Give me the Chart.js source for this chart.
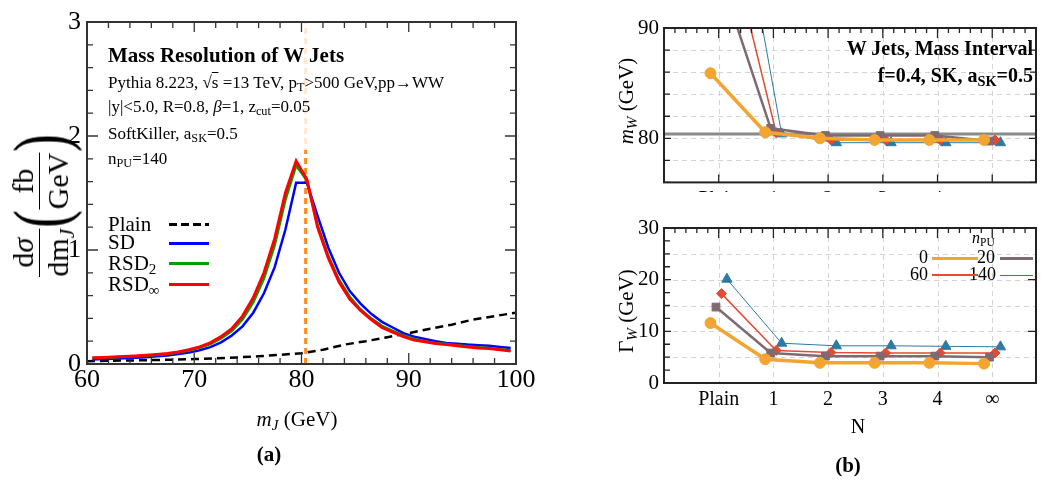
<!DOCTYPE html>
<html>
<head>
<meta charset="utf-8">
<script src="https://cdn.jsdelivr.net/npm/chart.js@4.4.0/dist/chart.umd.min.js"></script>
<style>
body { margin: 0; background: #fff; width: 1043px; height: 481px; overflow: hidden; position: relative; font-family: "Liberation Serif", serif; }
canvas { position: absolute; }
.t { position: absolute; white-space: nowrap; color: #000; line-height: 1; }
.b { font-weight: bold; }
sub { font-size: 72%; vertical-align: -0.28em; line-height: 0; }
.rot { position: absolute; transform: translate(-50%, -50%) rotate(-90deg); white-space: nowrap; line-height: 1; display: flex; align-items: center; }
.frac { display: inline-flex; flex-direction: column; align-items: center; line-height: 1.05; }
.frac .den { border-top: 1.6px solid #000; padding-top: 2px; }
.paren { font-size: 76px; line-height: 1; transform: scaleX(0.7); margin: 0 -3px; }
.key { position: absolute; }
</style>
</head>
<body>
<canvas id="massChart" width="540" height="440" style="left:0;top:0"></canvas>
<canvas id="mwChart" width="443" height="200" style="left:600px;top:0"></canvas>
<canvas id="gwChart" width="443" height="289" style="left:600px;top:192px;background:#fff"></canvas>

<!-- panel (a) text -->
<div class="t b" style="left:108px;top:45px;font-size:21px">Mass Resolution of W Jets</div>
<div class="t" style="left:108px;top:74px;font-size:17px">Pythia 8.223, √<span style="text-decoration:overline">s</span> =13 TeV, p<sub>T</sub>&gt;500 GeV,pp→WW</div>
<div class="t" style="left:108px;top:98px;font-size:17px">|y|&lt;5.0, R=0.8, <i>β</i>=1, z<sub>cut</sub>=0.05</div>
<div class="t" style="left:108px;top:125px;font-size:17px">SoftKiller, a<sub>SK</sub>=0.5</div>
<div class="t" style="left:108px;top:150px;font-size:17px">n<sub>PU</sub>=140</div>

<div class="t" style="left:108px;top:214px;font-size:21px">Plain</div>
<div class="t" style="left:108px;top:232px;font-size:21px">SD</div>
<div class="t" style="left:108px;top:253px;font-size:21px">RSD<sub>2</sub></div>
<div class="t" style="left:108px;top:274px;font-size:21px">RSD<sub>∞</sub></div>
<div class="key" style="left:169px;top:223px;width:40px;height:3px;background:repeating-linear-gradient(90deg,#000 0 8px,transparent 8px 12px)"></div>
<div class="key" style="left:169px;top:242px;width:40px;height:3px;background:#0000ff"></div>
<div class="key" style="left:169px;top:262px;width:40px;height:3px;background:#00a000"></div>
<div class="key" style="left:169px;top:283px;width:40px;height:3px;background:#ff0000"></div>

<div class="rot" style="left:40px;top:205px;font-size:30px">
  <span class="frac"><span>d<i>σ</i></span><span class="den">dm<sub><i>J</i></sub></span></span>
  <span class="paren">(</span>
  <span class="frac"><span>fb</span><span class="den">GeV</span></span>
  <span class="paren">)</span>
</div>
<div class="t" style="left:297px;top:409px;font-size:21px;transform:translateX(-50%)"><i>m<sub>J</sub></i> (GeV)</div>
<div class="t b" style="left:269px;top:444px;font-size:21px;transform:translateX(-50%)">(a)</div>

<!-- panel (b) text -->
<div class="t b" style="right:10px;top:38px;font-size:20px">W Jets, Mass Interval</div>
<div class="t b" style="right:10px;top:65px;font-size:20px">f=0.4, SK, a<sub>SK</sub>=0.5</div>
<div class="rot" style="left:626px;top:101px;font-size:21px"><span><i>m<sub>W</sub></i> (GeV)</span></div>
<div class="rot" style="left:626px;top:311px;font-size:21px"><span>Γ<sub><i>W</i></sub> (GeV)</span></div>

<div class="t" style="left:972px;top:230px;font-size:16px"><i>n</i><sub>PU</sub></div>
<div class="t" style="right:115px;top:248px;font-size:18px">0</div>
<div class="t" style="right:48px;top:248px;font-size:18px">20</div>
<div class="t" style="right:115px;top:265px;font-size:18px">60</div>
<div class="t" style="right:47px;top:265px;font-size:18px">140</div>
<div class="key" style="left:932px;top:256.5px;width:46px;height:3.5px;background:#f3a530"></div>
<div class="key" style="left:1000px;top:257px;width:33px;height:2.5px;background:#7f6a73"></div>
<div class="key" style="left:932px;top:274px;width:46px;height:1.5px;background:#e64a30"></div>
<div class="key" style="left:1000px;top:274.5px;width:33px;height:1px;background:#2f7aa0"></div>

<div class="t" style="left:858px;top:416px;font-size:20px;transform:translateX(-50%)">N</div>
<div class="t b" style="left:848px;top:455px;font-size:21px;transform:translateX(-50%)">(b)</div>

<script>
// ---- panel (a): jet mass distribution ----
const massBins = [60.5, 61.5, 62.5, 63.5, 64.5, 65.5, 66.5, 67.5, 68.5, 69.5,
    70.5, 71.5, 72.5, 73.5, 74.5, 75.5, 76.5, 77.5, 78.5, 79.5,
    80.5, 81.5, 82.5, 83.5, 84.5, 85.5, 86.5, 87.5, 88.5, 89.5,
    90.5, 91.5, 92.5, 93.5, 94.5, 95.5, 96.5, 97.5, 98.5, 99.5];
const sdVals = [0.04, 0.043, 0.047, 0.05, 0.055, 0.06, 0.067, 0.075, 0.087, 0.1,
    0.12, 0.148, 0.19, 0.25, 0.33, 0.45, 0.62, 0.85, 1.18, 1.59,
    1.59, 1.3, 1.02, 0.8, 0.64, 0.53, 0.44, 0.37, 0.32, 0.27,
    0.24, 0.22, 0.2, 0.185, 0.178, 0.17, 0.165, 0.16, 0.15, 0.14];
const rsd2Vals = [0.052, 0.055, 0.059, 0.063, 0.067, 0.073, 0.08, 0.088, 0.1, 0.118,
    0.142, 0.175, 0.225, 0.29, 0.39, 0.54, 0.75, 1.04, 1.44, 1.74,
    1.61, 1.22, 0.95, 0.74, 0.59, 0.48, 0.4, 0.335, 0.29, 0.25,
    0.22, 0.2, 0.185, 0.175, 0.165, 0.155, 0.148, 0.14, 0.13, 0.12];
const rsdInfVals = [0.055, 0.058, 0.062, 0.066, 0.07, 0.076, 0.083, 0.092, 0.105, 0.125,
    0.15, 0.185, 0.24, 0.31, 0.42, 0.58, 0.8, 1.1, 1.5, 1.78,
    1.62, 1.2, 0.93, 0.72, 0.57, 0.47, 0.39, 0.32, 0.28, 0.24,
    0.21, 0.195, 0.18, 0.17, 0.16, 0.15, 0.14, 0.135, 0.125, 0.115];
const plainMass = [60, 62, 64, 66, 68, 70, 72, 74, 76, 78, 80, 82, 84, 86, 88, 90, 92, 94, 96, 98, 100];
const plainVals = [0.025, 0.028, 0.031, 0.034, 0.038, 0.043, 0.05, 0.058, 0.068, 0.08,
    0.095, 0.125, 0.17, 0.2, 0.235, 0.27, 0.31, 0.345, 0.39, 0.42, 0.45];
const wMass = 80.385;

// ---- panel (b): fitted mass and width vs N ----
const nCats = ['Plain', '1', '2', '3', '4', '∞'];
const puLabels = ['0', '20', '60', '140'];
const mwSeries = [
    [85.9, 80.55, 80.0, 79.85, 79.85, 79.85],
    [95.9, 80.9, 80.25, 80.25, 80.25, 79.75],
    [100.8, 80.5, 79.85, 79.85, 79.85, 79.85],
    [107.9, 80.4, 79.6, 79.6, 79.6, 79.6]
];
const gwSeries = [
    [11.6, 4.6, 3.9, 3.9, 3.9, 3.75],
    [14.7, 5.8, 5.2, 5.2, 5.2, 5.0],
    [17.3, 6.3, 5.9, 5.8, 5.8, 5.8],
    [20.1, 7.7, 7.2, 7.2, 7.1, 7.0]
];

const puColors = ['#f3a530', '#7f6a73', '#e64a30', '#2f7aa0'];
const puWidths = [3.5, 2.5, 1.5, 1];
const puMarkers = ['circle', 'rect', 'rectRot', 'triangle'];
const puRadius = [5.5, 5.5, 5, 6];
const puShift = [-0.15, -0.05, 0.05, 0.15];
const nMin = -1, nMax = 5.8;

Chart.defaults.font.family = '"Liberation Serif", serif';
Chart.defaults.color = '#000';

// inward ticks on all sides, dashed grid and the frame
const frameTicks = {
    id: 'frameTicks',
    beforeDatasetsDraw(chart, args, o) {
        if (!o.grid) return;
        const { ctx, chartArea: a, scales } = chart;
        ctx.save();
        ctx.strokeStyle = '#d4d4d4';
        ctx.lineWidth = 1;
        ctx.setLineDash([5, 4]);
        ctx.beginPath();
        o.grid.x.forEach(v => {
            const p = Math.round(scales.x.getPixelForValue(v)) + 0.5;
            ctx.moveTo(p, a.top); ctx.lineTo(p, a.bottom);
        });
        o.grid.y.forEach(v => {
            const p = Math.round(scales.y.getPixelForValue(v)) + 0.5;
            ctx.moveTo(a.left, p); ctx.lineTo(a.right, p);
        });
        ctx.stroke();
        ctx.restore();
    },
    afterDatasetsDraw(chart, args, o) {
        if (!o.veil) return;
        const ctx = chart.ctx;
        ctx.save();
        ctx.fillStyle = 'rgba(255,255,255,0.8)';
        ctx.fillRect(o.veil[0], o.veil[1], o.veil[2], o.veil[3]);
        ctx.restore();
    },
    afterDraw(chart, args, o) {
        const { ctx, chartArea: a, scales } = chart;
        ctx.save();
        ctx.strokeStyle = o.color;
        ctx.lineWidth = 1.3;
        ctx.beginPath();
        const each = (scale, minor, major, fn) => {
            const n = Math.round((scale.max - scale.min) / minor);
            for (let i = 0; i <= n; i++) {
                const v = scale.min + i * minor;
                const isMajor = Math.abs(v / major - Math.round(v / major)) < 1e-6;
                fn(scale.getPixelForValue(v), isMajor);
            }
        };
        each(scales.x, o.x.minor, o.x.major, (p, M) => {
            const b = o.x.bottom[M ? 0 : 1], t = o.x.top[M ? 0 : 1];
            if (b) { ctx.moveTo(p, a.bottom); ctx.lineTo(p, a.bottom - b); }
            if (t) { ctx.moveTo(p, a.top); ctx.lineTo(p, a.top + t); }
        });
        each(scales.y, o.y.minor, o.y.major, (p, M) => {
            const l = o.y.left[M ? 0 : 1], r = o.y.right[M ? 0 : 1];
            if (l) { ctx.moveTo(a.left, p); ctx.lineTo(a.left + l, p); }
            if (r) { ctx.moveTo(a.right, p); ctx.lineTo(a.right - r, p); }
        });
        ctx.stroke();
        ctx.lineWidth = o.frameWidth;
        ctx.strokeRect(a.left, a.top, a.width, a.height);
        ctx.restore();
    }
};

function massLine(xs, ys, color, width, dash) {
    return {
        data: xs.map((x, i) => ({ x: x, y: ys[i] })),
        borderColor: color,
        borderWidth: width,
        borderDash: dash || [],
        pointRadius: 0,
        tension: 0,
        fill: false
    };
}

new Chart(document.getElementById('massChart'), {
    type: 'line',
    data: {
        datasets: [
            massLine(massBins, rsdInfVals, '#ff0000', 3),
            massLine(massBins, rsd2Vals, '#00a000', 2.5),
            massLine(massBins, sdVals, '#0000ff', 2.5),
            massLine(plainMass, plainVals, '#000000', 2.5, [8, 5]),
            massLine([wMass, wMass], [0, 3], '#ff8c1a', 3, [6, 4])
        ]
    },
    options: {
        responsive: false,
        animation: false,
        layout: { padding: { top: 22, right: 24, left: 0, bottom: 0 } },
        plugins: {
            legend: { display: false },
            tooltip: { enabled: false },
            frameTicks: {
                color: '#333',
                frameWidth: 2,
                veil: [100, 23, 390, 127],
                x: { minor: 2, major: 10, top: [10, 6], bottom: [11, 6] },
                y: { minor: 0.2, major: 1, left: [11, 6], right: [11, 6] }
            }
        },
        scales: {
            x: {
                type: 'linear', min: 60, max: 100,
                grid: { display: false, drawTicks: false },
                border: { display: false },
                ticks: { stepSize: 10, font: { size: 26 }, padding: 1, maxRotation: 0 },
                afterFit(s) { s.height = 76; }
            },
            y: {
                min: 0, max: 3,
                grid: { display: false, drawTicks: false },
                border: { display: false },
                ticks: { stepSize: 1, font: { size: 26 }, padding: 6 },
                afterFit(s) { s.width = 87; }
            }
        }
    },
    plugins: [frameTicks]
});

function puSets(series) {
    return series.map((vals, k) => ({
        label: puLabels[k],
        data: vals.map((v, i) => ({ x: i + puShift[k], y: v })),
        borderColor: puColors[k],
        backgroundColor: puColors[k],
        borderWidth: puWidths[k],
        pointStyle: puMarkers[k],
        pointRadius: puRadius[k],
        pointBorderWidth: 1,
        tension: 0,
        fill: false
    }));
}

const catPositions = nCats.map((c, i) => i);

function nAxis(height) {
    return {
        type: 'linear', min: nMin, max: nMax,
        grid: { display: false, drawTicks: false },
        border: { display: false },
        ticks: {
            autoSkip: false, maxRotation: 0, font: { size: 20 }, padding: 5,
            callback: v => nCats[v]
        },
        afterBuildTicks(s) { s.ticks = catPositions.map(v => ({ value: v })); },
        afterFit(s) { s.height = height; }
    };
}

new Chart(document.getElementById('mwChart'), {
    type: 'line',
    data: {
        datasets: puSets(mwSeries).concat([{
            data: [{ x: nMin, y: wMass }, { x: nMax, y: wMass }],
            borderColor: '#8a8a8a', borderWidth: 3, pointRadius: 0
        }])
    },
    options: {
        responsive: false,
        animation: false,
        layout: { padding: { top: 28, right: 1, left: 0, bottom: 0 } },
        plugins: {
            legend: { display: false },
            tooltip: { enabled: false },
            frameTicks: {
                color: '#222',
                frameWidth: 2,
                grid: { x: catPositions, y: [78, 80, 82, 84, 86, 88] },
                x: { minor: 0.2, major: 1, top: [10, 5], bottom: [8, 0] },
                y: { minor: 2, major: 10, left: [7, 6], right: [7, 6] }
            }
        },
        scales: {
            x: nAxis(16),
            y: {
                min: 76, max: 90,
                grid: { display: false, drawTicks: false },
                border: { display: false },
                ticks: { font: { size: 21 }, padding: 5, autoSkip: false },
                afterBuildTicks(s) { s.ticks = [{ value: 80 }, { value: 90 }]; },
                afterFit(s) { s.width = 64; }
            }
        }
    },
    plugins: [frameTicks]
});

new Chart(document.getElementById('gwChart'), {
    type: 'line',
    data: { datasets: puSets(gwSeries) },
    options: {
        responsive: false,
        animation: false,
        layout: { padding: { top: 36, right: 1, left: 0, bottom: 0 } },
        plugins: {
            legend: { display: false },
            tooltip: { enabled: false },
            frameTicks: {
                color: '#222',
                frameWidth: 2,
                grid: { x: catPositions, y: [5, 10, 15, 20, 25] },
                x: { minor: 0.2, major: 1, top: [10, 5], bottom: [0, 0] },
                y: { minor: 2.5, major: 10, left: [7, 6], right: [8, 0] }
            }
        },
        scales: {
            x: nAxis(98),
            y: {
                min: 0, max: 30,
                grid: { display: false, drawTicks: false },
                border: { display: false },
                ticks: { stepSize: 10, font: { size: 21 }, padding: 5, autoSkip: false },
                afterFit(s) { s.width = 64; }
            }
        }
    },
    plugins: [frameTicks]
});
</script>
</body>
</html>
